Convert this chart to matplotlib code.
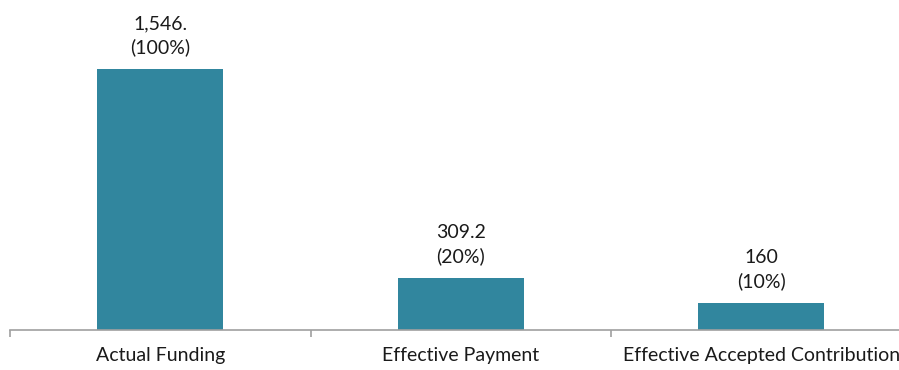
import matplotlib
matplotlib.use("Agg")
import matplotlib.pyplot as plt

categories = ["Actual Funding", "Effective Payment", "Effective Accepted Contribution"]
values = [1546, 309.2, 160]
value_labels = ["1,546.", "309.2", "160"]
pct_labels = ["(100%)", "(20%)", "(10%)"]

plt.rcParams['font.family'] = ['Lato', 'DejaVu Sans']

W, H = 899, 370
fig = plt.figure(figsize=(W / 100, H / 100), dpi=100)
left = 10 / W
right = (10 + 3 * 300.5) / W
bottom = 1 - 330 / H
ax = fig.add_axes([left, bottom, right - left, 1 - bottom])

x = list(range(len(categories)))
bars = ax.bar(x, values, width=0.42, color="#31869e")
ax.set_xlim(-0.5, 2.5)
ax.set_ylim(0, 330 / 0.1688)

for xi, v, vl, pl in zip(x, values, value_labels, pct_labels):
    ax.annotate(f"{vl}\n{pl}", (xi, v), xytext=(0, 9), textcoords="offset points",
                ha="center", va="bottom", fontsize=14, color="#1a1a1a", linespacing=1.45)

for s in ["top", "right", "left"]:
    ax.spines[s].set_visible(False)
ax.spines["bottom"].set_color("#a0a0a0")
ax.spines["bottom"].set_linewidth(1.2)
ax.set_yticks([])
ax.set_xticks([-0.5, 0.5, 1.5, 2.5], minor=False)
ax.set_xticklabels([])
ax.tick_params(axis="x", which="major", length=5, color="#a0a0a0", width=1.2)
ax.set_xticks(x, minor=True)
ax.set_xticklabels(categories, minor=True, fontsize=14, color="#1a1a1a")
ax.tick_params(axis="x", which="minor", length=0, pad=12)

fig.savefig("out.png", dpi=100)
